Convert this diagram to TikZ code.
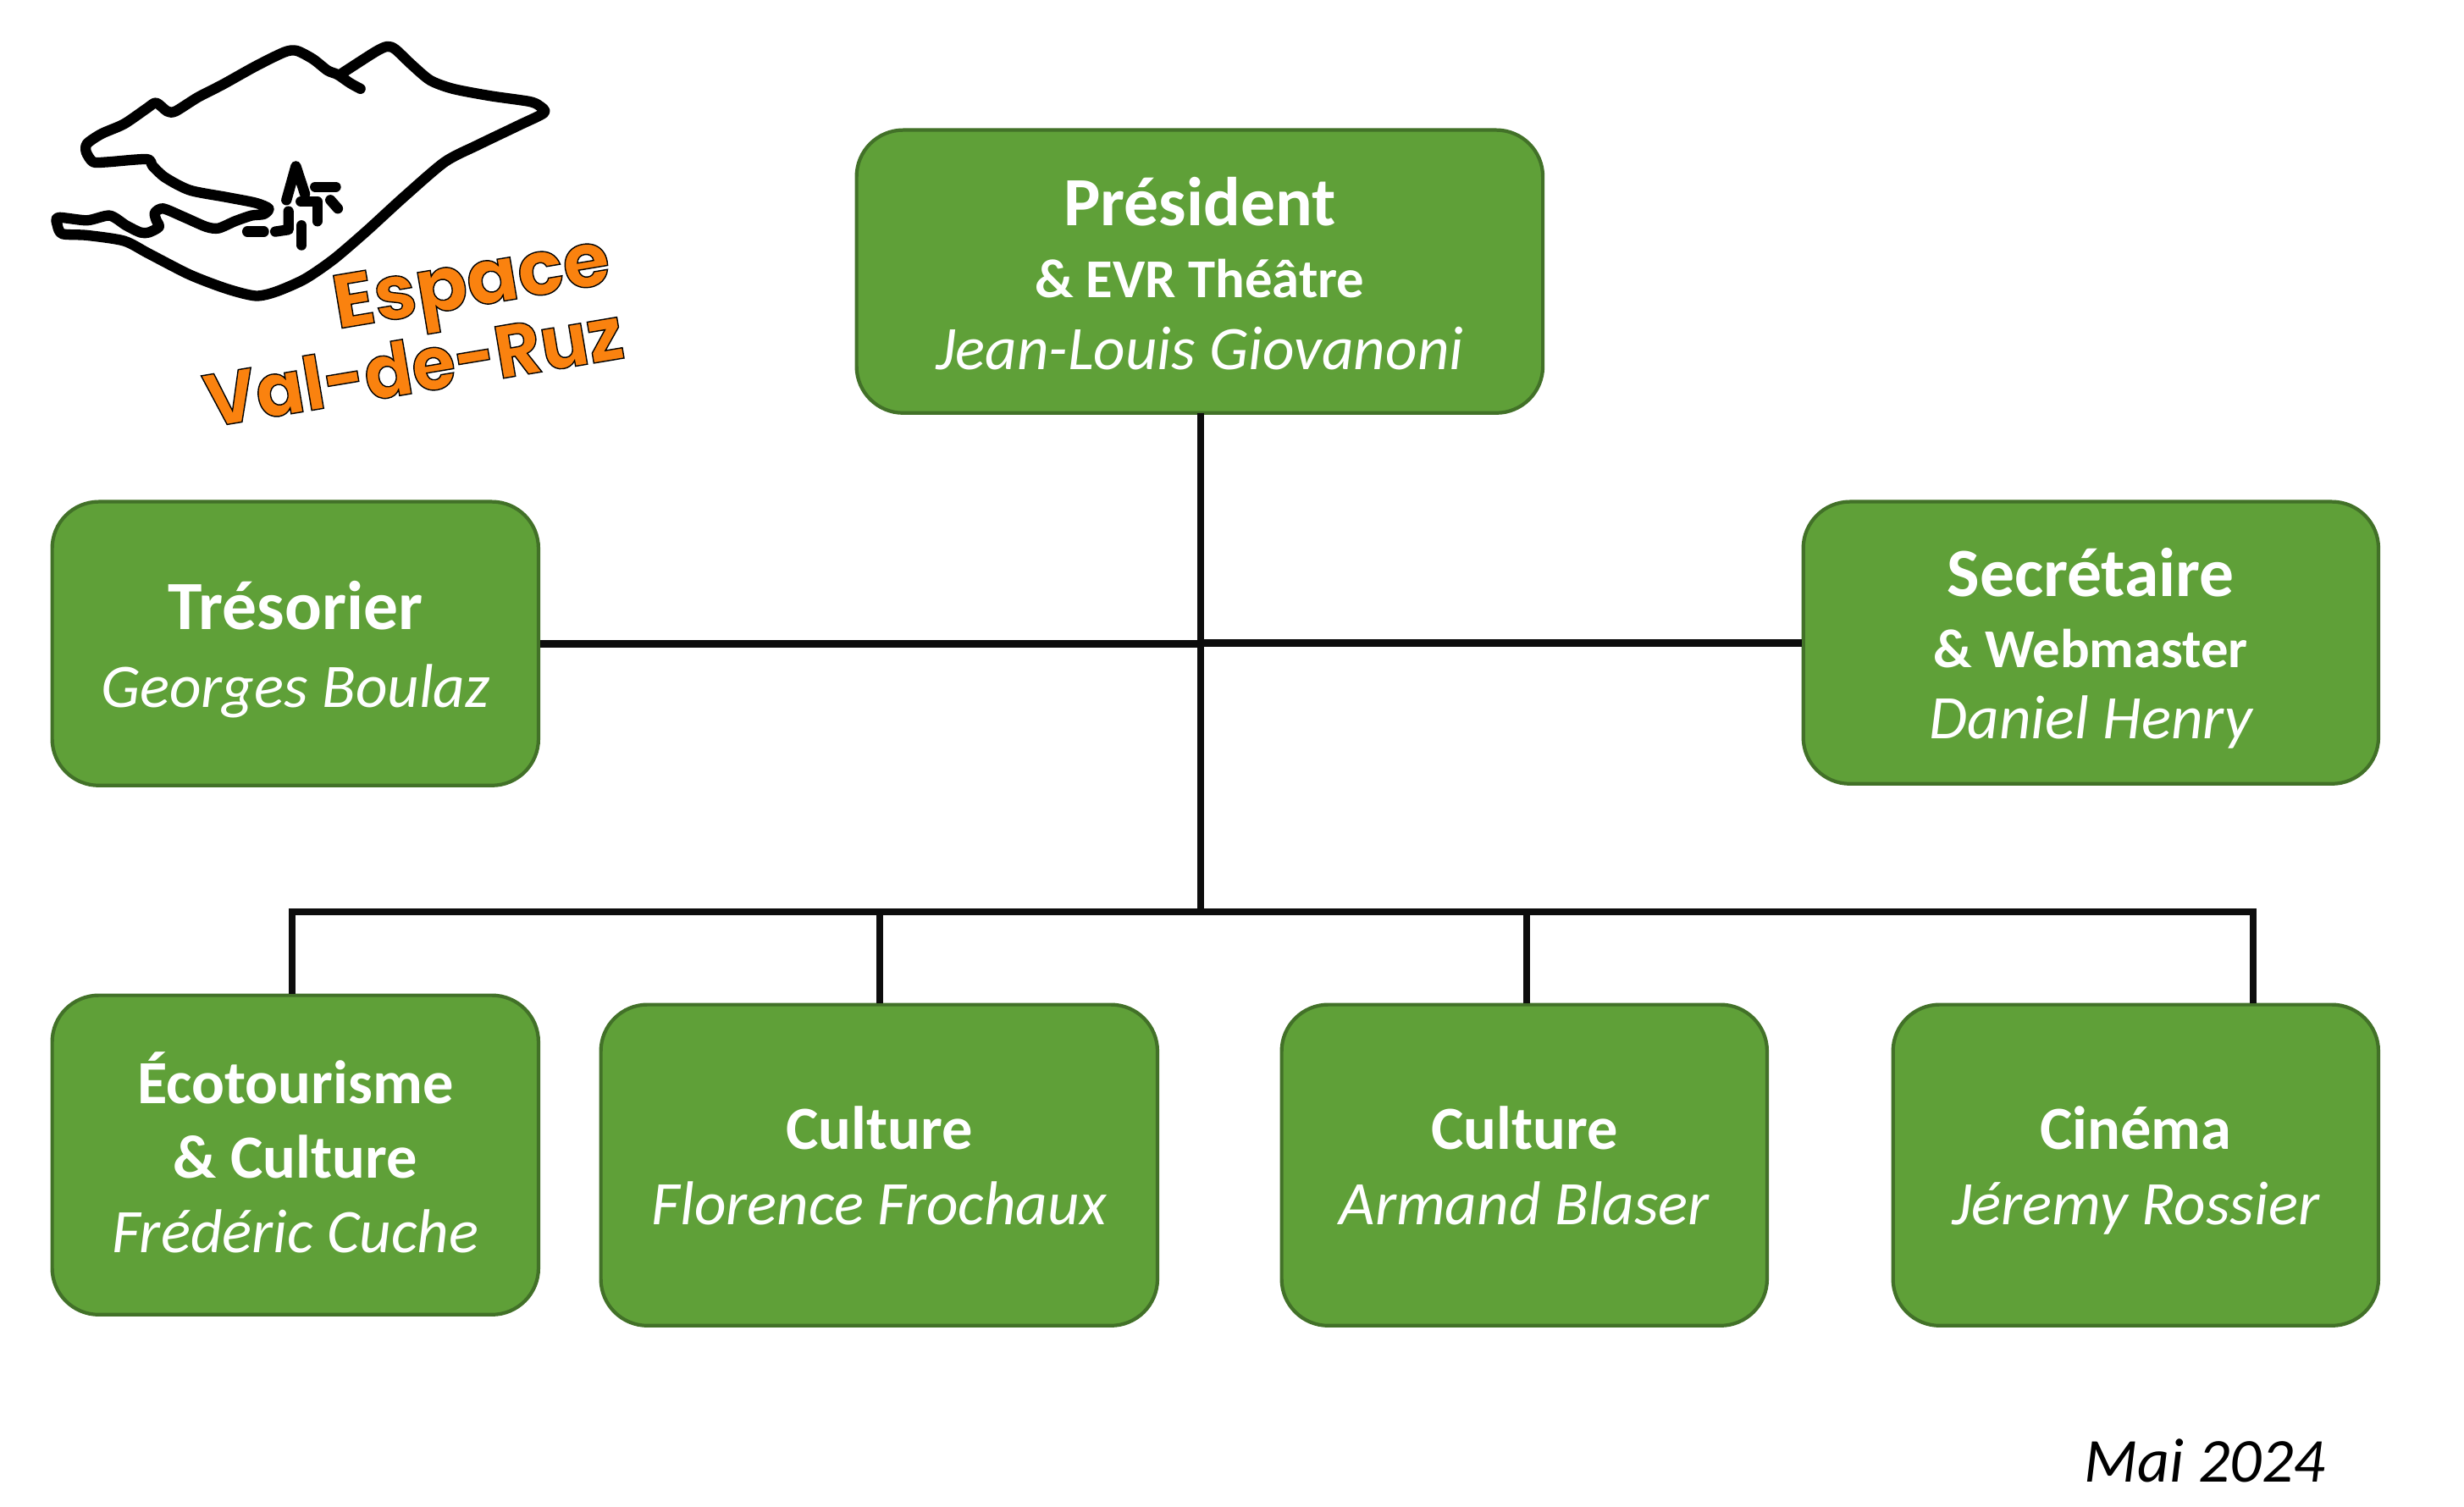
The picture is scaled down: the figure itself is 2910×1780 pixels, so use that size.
\documentclass[tikz,border=0pt]{standalone}
\usepackage{fontspec}
\setmainfont{Carlito}
\newfontfamily\logofont{Poppins}
\newfontfamily\logofontnarrow{Poppins}[FakeStretch=0.95]
\definecolor{boxfill}{RGB}{95,160,56}
\definecolor{boxedge}{RGB}{66,113,40}
\definecolor{logoorange}{RGB}{250,130,15}
\newcommand{\role}[1]{{\fontsize{23.2}{23}\selectfont\bfseries #1}}
\newcommand{\subrole}[1]{{\fontsize{18.4}{18}\selectfont\bfseries #1}}
\newcommand{\area}[1]{{\fontsize{20.6}{20}\selectfont\bfseries #1}}
\newcommand{\person}[1]{{\fontsize{20.8}{20}\selectfont\itshape #1}}
\newcommand{\outlined}[1]{\special{pdf:code q 2 Tr 0.4 w 0 0 0 RG}#1\special{pdf:code 0 Tr Q}}
% #1 = baseline distance, #2 = raise, #3 = lines
\newcommand{\lines}[3]{\fontsize{20}{#1}\selectfont\raisebox{#2}[0pt][0pt]{\begin{tabular}{@{}c@{}}#3\end{tabular}}}
\tikzset{
  orgbox/.style={draw=boxedge,fill=boxfill,line width=1.2pt,rounded corners=0.55cm,text=white,inner sep=0pt,anchor=north west},
  link/.style={line width=2.5pt,draw=black!95},
  logoline/.style={line width=3.5pt,line cap=round,line join=round},
  logotext/.style={text=logoorange,draw=none,rotate=9.5,inner sep=0pt},
}
\begin{document}
\begin{tikzpicture}[x=0.01cm,y=-0.01cm]
\useasboundingbox (0,0) rectangle (2910,1780);
\node[orgbox,minimum width=8.10cm,minimum height=3.34cm] (pres) at (1009.5,151.5) {\lines{24.2pt}{-9.1pt}{\role{Président}\\\subrole{\& EVR Théâtre}\\\person{Jean-Louis Giovanoni}}};
\node[orgbox,minimum width=5.74cm,minimum height=3.35cm] (tres) at (59.5,590.5) {\lines{26.3pt}{-8.2pt}{\role{Trésorier}\\\person{Georges Boulaz}}};
\node[orgbox,minimum width=6.79cm,minimum height=3.33cm] (secr) at (2127.5,590.5) {\lines{24pt}{-8.7pt}{\role{Secrétaire}\\\subrole{\& Webmaster}\\\person{Daniel Henry}}};
\node[orgbox,minimum width=5.74cm,minimum height=3.77cm] (eco) at (59.5,1173.5) {\lines{25.1pt}{-7.9pt}{\area{Écotourisme}\\\area{\& Culture}\\\person{Frédéric Cuche}}};
\node[orgbox,minimum width=6.57cm,minimum height=3.79cm] (cultf) at (707.5,1184.5) {\lines{25.3pt}{-7.4pt}{\area{Culture}\\\person{Florence Frochaux}}};
\node[orgbox,minimum width=5.73cm,minimum height=3.79cm] (culta) at (1511.5,1184.5) {\lines{25.3pt}{-7.4pt}{\area{Culture}\\\person{Armand Blaser}}};
\node[orgbox,minimum width=5.73cm,minimum height=3.79cm] (cine) at (2233.5,1184.5) {\lines{25.3pt}{-7.4pt}{\area{Cinéma}\\\person{Jéremy Rossier}}};
\node[font=\fontsize{21}{21}\selectfont\itshape,inner sep=0pt] (date) at (2604,1725) {Mai 2024};
\coordinate (busc) at (1418,1077);
\coordinate (presfoot) at (1418,488);
\coordinate (busl) at (345,1077);
\coordinate (busf) at (1039,1077);
\coordinate (busa) at (1803,1077);
\coordinate (busr) at (2661,1077);
\draw[link] (presfoot) -- (busc);
\draw[link] (tres.east) -- (tres.east -| busc);
\draw[link] (secr.west) -- (secr.west -| busc);
\draw[link] (busl |- eco.north) -- (busl) -- (busr) -- (busr |- cine.north);
\draw[link] (busf) -- (busf |- cultf.north);
\draw[link] (busa) -- (busa |- culta.north);
% logo
\begin{scope}[shift={(30,20)},x=0.004847cm,y=-0.003333cm]
\draw[logoline] plot[smooth,tension=0.45] coordinates {(815,255) (790,235) (760,205) (735,190) (700,150) (660,120) (630,125) (560,175) (480,240) (420,285) (365,335) (345,335) (318,305) (295,325) (240,380) (185,415) (150,450) (148,480) (165,515) (200,515) (295,505) (310,530) (340,570) (400,615) (490,640) (560,660) (592,680) (580,700) (550,705) (510,725) (470,750) (440,745) (385,710) (335,680) (315,695) (318,720) (325,745) (300,765) (280,765) (245,740) (205,705) (150,722) (80,712) (78,740) (90,770) (150,775) (240,795) (300,840) (400,915) (490,965) (560,990) (610,975) (680,930) (750,860) (830,760) (920,640) (1020,515) (1100,455) (1200,385) (1262,340) (1250,315) (1225,300) (1130,280) (1040,255) (985,225) (940,170) (900,115) (880,105) (850,125) (765,205)};
\draw[logoline] (635,650) -- (658,530) -- (680,628);
\draw[logoline] (705,603) -- (755,603);
\draw[logoline] (670,655) -- (710,655) -- (710,725);
\draw[logoline] (742,650) -- (760,680);
\draw[logoline] (540,762) -- (580,762);
\draw[logoline] (608,762) -- (640,755) -- (640,690);
\draw[logoline] (672,740) -- (672,810);
\end{scope}
\node[logotext,font=\logofont\bfseries\fontsize{25.5}{25}\selectfont] (esp) at (558,342) {\outlined{Espace}};
\node[logotext,font=\logofontnarrow\bfseries\fontsize{25}{25}\selectfont] (val) at (488,432) {\outlined{Val-de-Ruz}};
\end{tikzpicture}
\end{document}
